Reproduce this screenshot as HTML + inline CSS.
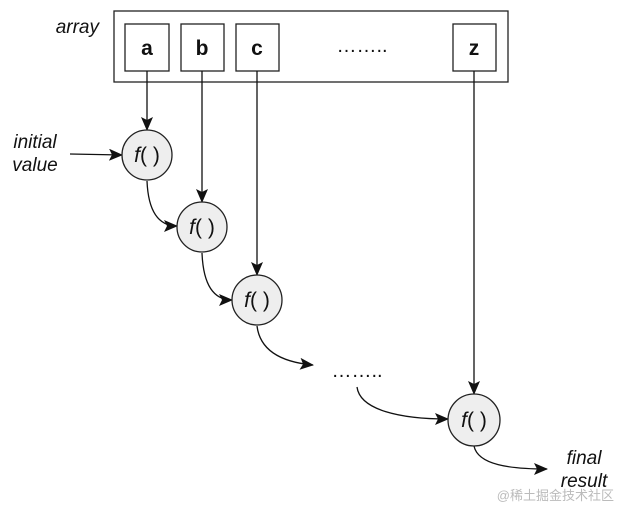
<!DOCTYPE html>
<html><head><style>body{margin:0;background:#fff}</style></head><body>
<svg width="619" height="507" viewBox="0 0 619 507" xmlns="http://www.w3.org/2000/svg" font-family="Liberation Sans, sans-serif">
<defs><marker id="ar" markerWidth="14" markerHeight="12" refX="13" refY="6" orient="auto" markerUnits="userSpaceOnUse"><path d="M0,0 L14,6 L0,12 L3,6 Z" fill="#111"/></marker></defs>
<rect x="114" y="11" width="394" height="71" fill="#fff" stroke="#222" stroke-width="1.3"/>
<g fill="#fff" stroke="#222" stroke-width="1.3">
<rect x="125" y="24" width="44" height="47"/><rect x="181" y="24" width="43" height="47"/><rect x="236" y="24" width="43" height="47"/><rect x="453" y="24" width="43" height="47"/></g>
<g font-weight="bold" font-size="21" text-anchor="middle" fill="#111">
<text x="147" y="55">a</text><text x="202" y="55">b</text><text x="257" y="55">c</text><text x="474" y="55">z</text></g>
<text x="362" y="52" font-size="20" text-anchor="middle" fill="#111">……..</text>
<text x="99" y="33" font-size="19" font-style="italic" text-anchor="end" fill="#111">array</text>
<text x="35" y="148" font-size="19" font-style="italic" text-anchor="middle" fill="#111">initial</text>
<text x="35" y="171" font-size="19" font-style="italic" text-anchor="middle" fill="#111">value</text>
<g stroke="#111" stroke-width="1.3" fill="none" marker-end="url(#ar)">
<line x1="147" y1="71" x2="147" y2="130"/>
<line x1="202" y1="71" x2="202" y2="202"/>
<line x1="257" y1="71" x2="257" y2="275"/>
<line x1="474" y1="71" x2="474" y2="394"/>
<line x1="70" y1="154" x2="122" y2="155"/>
<path d="M147,181 C148,205 155,226 177,226"/>
<path d="M202,253 C203,278 210,300 232,300"/>
<path d="M257,326 C260,350 280,362 313,365"/>
<path d="M357,387 C360,410 400,419 448,419"/>
<path d="M474,446 C478,465 510,469 547,469"/>
</g>
<g fill="#eee" stroke="#222" stroke-width="1.3">
<circle cx="147" cy="155" r="25"/><circle cx="202" cy="227" r="25"/><circle cx="257" cy="300" r="25"/><circle cx="474" cy="420" r="26"/></g>
<g font-size="21" text-anchor="middle" fill="#111">
<text x="147" y="162"><tspan font-style="italic">f</tspan>( )</text>
<text x="202" y="234"><tspan font-style="italic">f</tspan>( )</text>
<text x="257" y="307"><tspan font-style="italic">f</tspan>( )</text>
<text x="474" y="427"><tspan font-style="italic">f</tspan>( )</text></g>
<text x="357" y="377" font-size="20" text-anchor="middle" fill="#111">……..</text>
<text x="584" y="464" font-size="19" font-style="italic" text-anchor="middle" fill="#111">final</text>
<text x="584" y="487" font-size="19" font-style="italic" text-anchor="middle" fill="#111">result</text>
<text x="614" y="500" font-size="13" text-anchor="end" fill="#bbb" font-family="Liberation Sans, Noto Sans CJK SC, sans-serif">@稀土掘金技术社区</text>
</svg>
</body></html>
